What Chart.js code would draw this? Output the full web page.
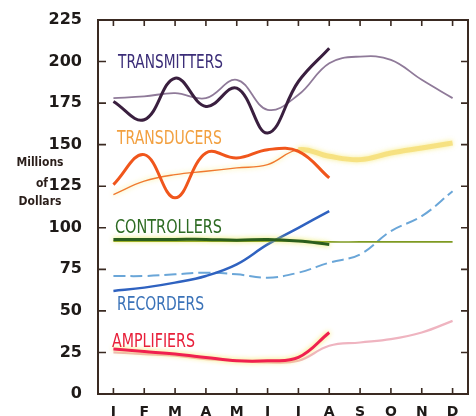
<!DOCTYPE html>
<html lang="en">
<head>
  <meta charset="UTF-8" />
  <title>Millions of Dollars</title>
  <style>
    body { margin: 0; background: #fff; }
    #chart { display: block; }
  </style>
</head>
<body>
  <canvas id="chart" width="476" height="416"></canvas>

  <script src="https://cdn.jsdelivr.net/npm/chart.js"></script>
  <script>
    // data
    const months = ["J", "F", "M", "A", "M", "J", "J", "A", "S", "O", "N", "D"];
    const yTicks = [0, 25, 50, 75, 100, 125, 150, 175, 200, 225];

    const transmittersNow = [176, 165, 190, 173, 184, 157, 188, 208];
    const transmittersFcst = [178, 179, 181, 178, 189, 171, 180, 199, 203, 201, 189, 178];
    const transducersNow = [126, 144, 118, 145, 142, 147, 146, 130];
    const transducersFcst = [120, 128, 132, 134, 136, 138, 147, 143, 141, 145, 148, 151];
    const controllersNow = [93, 93, 93, 93, 92.5, 93, 92, 90];
    const controllersFcst = [92, 92, 92, 92, 92, 92, 92, 91.5, 91.5, 91.5, 91.5, 91.5];
    const recordersNow = [62, 64, 67, 71, 78, 90, 100, 110];
    const recordersFcst = [71, 71, 72, 73, 72, 70, 73, 79, 84, 98, 107, 122];
    const amplifiersNow = [27, 25.5, 24, 22, 20, 20, 22, 37];
    const amplifiersFcst = [25, 24, 23, 21, 20, 19, 20, 29, 31, 33, 37, 44];

    const seriesLabels = [
      { text: "TRANSMITTERS", x: 118, y: 63, w: 105, color: "#3b2d78" },
      { text: "TRANSDUCERS", x: 117, y: 139, w: 105, color: "#f2a040" },
      { text: "CONTROLLERS", x: 115, y: 228, w: 107, color: "#2e6b23" },
      { text: "RECORDERS", x: 117, y: 305, w: 87, color: "#3a72b8" },
      { text: "AMPLIFIERS", x: 112, y: 342, w: 83, color: "#e8203a" }
    ];

    const frameColor = "#3a2a22";

    // frame with inward tick marks, plus the text labels
    const framePlugin = {
      id: "frame",
      afterDraw(chart) {
        const { ctx, chartArea: a, scales } = chart;
        ctx.save();
        ctx.strokeStyle = frameColor;
        ctx.lineWidth = 2;
        ctx.strokeRect(a.left, a.top, a.right - a.left, a.bottom - a.top);
        ctx.lineWidth = 1.6;
        ctx.beginPath();
        yTicks.forEach((v) => {
          const y = scales.y.getPixelForValue(v);
          ctx.moveTo(a.left, y); ctx.lineTo(a.left + 8, y);
          ctx.moveTo(a.right, y); ctx.lineTo(a.right - 7, y);
        });
        months.forEach((m, i) => {
          const x = scales.x.getPixelForValue(i);
          ctx.moveTo(x, a.top); ctx.lineTo(x, a.top + 6);
          ctx.moveTo(x, a.bottom); ctx.lineTo(x, a.bottom - 6);
        });
        ctx.stroke();

        // axis title
        ctx.fillStyle = "#2a1e1a";
        ctx.font = "bold 12px 'DejaVu Sans Condensed', 'DejaVu Sans', sans-serif";
        ctx.textAlign = "center";
        ctx.textBaseline = "middle";
        ctx.fillText("Millions", 40, 163, 50);
        ctx.fillText("of", 42, 184);
        ctx.fillText("Dollars", 40, 202, 50);

        // series names
        ctx.textAlign = "left";
        ctx.font = "19px 'DejaVu Sans', sans-serif";
        seriesLabels.forEach((l) => {
          ctx.fillStyle = l.color;
          ctx.fillText(l.text, l.x, l.y, l.w);
        });
        ctx.restore();
      }
    };

    // soft printed glow behind some lines
    const glowPlugin = {
      id: "glow",
      beforeDatasetDraw(chart, args) {
        const ds = chart.data.datasets[args.index];
        if (ds.glow) {
          chart.ctx.save();
          chart.ctx.shadowColor = ds.glow;
          chart.ctx.shadowBlur = 5;
        }
      },
      afterDatasetDraw(chart, args) {
        if (chart.data.datasets[args.index].glow) chart.ctx.restore();
      }
    };

    const ctx = document.getElementById("chart").getContext("2d");
    new Chart(ctx, {
      type: "line",
      data: {
        labels: months,
        datasets: [
          { label: "Transmitters", data: transmittersNow, borderColor: "#3a1f3f", borderWidth: 3 },
          { label: "Transducers", data: transducersNow, borderColor: "#f0561c", borderWidth: 3 },
          { label: "Controllers", data: controllersNow, borderColor: "#2b5e1c", borderWidth: 3, glow: "rgba(230,230,60,0.9)" },
          { label: "Recorders", data: recordersNow, borderColor: "#2f62c0", borderWidth: 2.5 },
          { label: "Amplifiers", data: amplifiersNow, borderColor: "#f0204f", borderWidth: 3, glow: "rgba(245,225,70,0.9)" },
          { label: "Transmitters forecast", data: transmittersFcst, borderColor: "#8f7a99", borderWidth: 1.8 },
          {
            label: "Transducers forecast", data: transducersFcst, borderColor: "#f07a30", borderWidth: 1.3,
            segment: {
              borderColor: (c) => (c.p0DataIndex >= 6 ? "rgba(246,222,120,0.85)" : undefined),
              borderWidth: (c) => (c.p0DataIndex >= 6 ? 5 : undefined)
            },
            glow: "rgba(245,230,90,0.8)"
          },
          { label: "Controllers forecast", data: controllersFcst, borderColor: "#7f9a22", borderWidth: 1.6 },
          { label: "Recorders forecast", data: recordersFcst, borderColor: "#6aa6d8", borderWidth: 2, borderDash: [12, 5] },
          { label: "Amplifiers forecast", data: amplifiersFcst, borderColor: "#efb4c0", borderWidth: 2.2 }
        ]
      },
      options: {
        responsive: false,
        animation: false,
        devicePixelRatio: 1,
        layout: { padding: { top: 20, right: 8, left: 0, bottom: 0 } },
        elements: { point: { radius: 0 }, line: { tension: 0.4, fill: false } },
        plugins: { legend: { display: false }, tooltip: { enabled: false } },
        scales: {
          x: {
            type: "category",
            offset: true,
            grid: { display: false },
            border: { display: false },
            ticks: {
              color: "#1e1a18",
              padding: 2,
              autoSkip: false,
              maxRotation: 0,
              font: { family: "'DejaVu Sans', sans-serif", size: 14, weight: "bold" }
            },
            afterFit(scale) { scale.height = 22; }
          },
          y: {
            min: 0,
            max: 225,
            grid: { display: false },
            border: { display: false },
            ticks: {
              stepSize: 25,
              color: "#1e1a18",
              padding: 8,
              font: { family: "'DejaVu Sans', sans-serif", size: 16, weight: "bold" }
            },
            afterFit(scale) { scale.width = 98; }
          }
        }
      },
      plugins: [glowPlugin, framePlugin]
    });
  </script>
</body>
</html>
